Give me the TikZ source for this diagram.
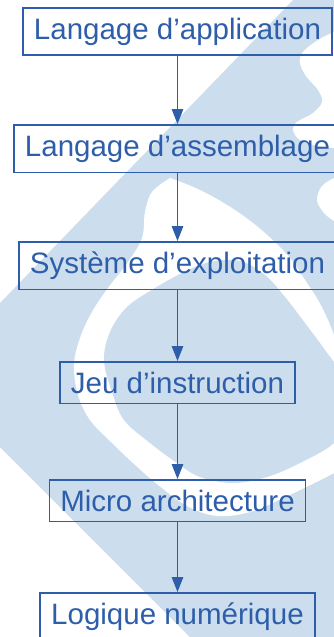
\documentclass[tikz,border=0pt]{standalone}
\usepackage{fontspec}
\setmainfont{Liberation Sans}
\usetikzlibrary{arrows.meta}
\definecolor{wm}{RGB}{204,222,238}
\definecolor{ink}{RGB}{46,94,170}
\begin{document}
\begin{tikzpicture}[x=1pt,y=-1pt,
  layerbox/.style={draw=ink, line width=1.5pt, text=ink, inner xsep=11pt, inner ysep=10pt,
    font=\fontsize{29.5}{34}\selectfont, anchor=north},
  link/.style={draw=ink, line width=1.4pt, -{Triangle[width=11.5pt,length=15pt]}},
  wmark/.style={fill=wm, draw=none},
  gap/.style={fill=white, draw=none}]
\useasboundingbox (0,0) rectangle (334,637);
\clip (0,0) rectangle (334,637);
% ---- watermark ----
\fill[wmark] (293,0) -- (345,0) -- (345,650) -- (203,650) -- (0,447) -- (0,303) -- cycle;
% white wedge and ring
\fill[gap] plot[smooth, tension=0.6] coordinates {(170,178) (152,192) (145,212) (142,238) (128,262)
   (108,288) (92,312) (80,338) (74,365) (78,395) (90,420) (110,441) (133,463) (157,484)
   (187,506) (217,516) (250,512) (283,498) (334,473) (360,455)}
  -- (360,340)
  -- plot[smooth, tension=0.6] coordinates {(334,335) (328,320) (318,300) (305,280) (290,258)
   (265,233) (235,210) (200,190) (170,178)} -- cycle;
% inner disk
\fill[wmark] plot[smooth cycle, tension=0.6] coordinates {(210,262) (240,261) (265,275) (285,297)
   (305,323) (325,350) (345,380) (352,415) (334,443) (300,463) (267,477) (233,483) (200,477)
   (177,463) (150,443) (124,420) (112,392) (104,360) (110,332) (126,308) (150,291) (182,273)};
% right wavy gaps
\fill[gap] (340,30) -- (334,32) -- plot[smooth, tension=0.6] coordinates {(334,32) (318,40) (303,52)
   (300,63) (306,76) (318,90) (322,102) (313,113) (297,122) (293,130) (300,140) (318,146) (334,148)}
   -- (340,148) -- cycle;
\fill[gap] (340,178) -- plot[smooth, tension=0.6] coordinates {(334,178) (322,186) (317,200)
   (324,213) (334,221)} -- (340,221) -- cycle;
% ---- diagram ----
\node[layerbox] (l1) at (177.5,7)   {Langage d’application};
\node[layerbox] (l2) at (177.5,124) {Langage d’assemblage};
\node[layerbox] (l3) at (177.5,241) {Système d’exploitation};
\node[layerbox] (l4) at (177.5,361) {Jeu d’instruction};
\node[layerbox] (l5) at (177.5,479) {Micro architecture};
\node[layerbox] (l6) at (177.5,592) {Logique numérique};
\draw[link] (l1.south) -- (l2.north);
\draw[link] (l2.south) -- (l3.north);
\draw[link] (l3.south) -- (l4.north);
\draw[link] (l4.south) -- (l5.north);
\draw[link] (l5.south) -- (l6.north);
\end{tikzpicture}
\end{document}
